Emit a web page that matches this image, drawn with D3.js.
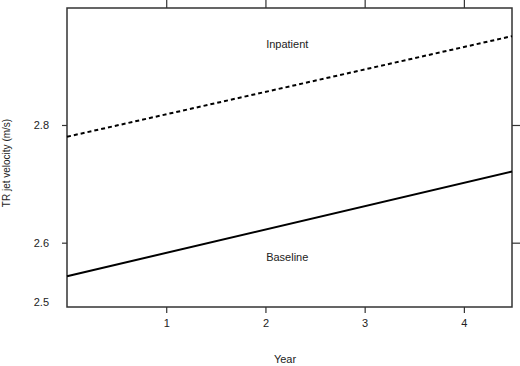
<!DOCTYPE html>
<html>
<head>
<meta charset="utf-8">
<script src="https://cdn.jsdelivr.net/npm/d3@7"></script>
<style>
  body { margin: 0; background: #fff; }
  svg { display: block; font-family: Arial, "Liberation Sans", sans-serif; }
</style>
</head>
<body>
<script>
const width = 520;
const height = 366;

// values
const years = [0, 4.485];
const baseline = [2.543, 2.721];
const inpatient = [2.780, 2.951];
const xTicks = [1, 2, 3, 4];
const yTickLabels = [2.5, 2.6, 2.8];
const yTickMarks = [2.6, 2.8];
const groupLabels = [
  { name: 'Inpatient', year: 2.22, value: 2.9376 },
  { name: 'Baseline', year: 2.22, value: 2.5757 }
];

const margin = { left: 67, right: 8, top: 8, bottom: 59 };
const x = d3.scaleLinear().domain([0, 4.485]).range([margin.left, width - margin.right]);
const y = d3.scaleLinear().domain([2.4907, 2.9988]).range([height - margin.bottom, margin.top]);

const svg = d3.select('body').append('svg')
  .attr('width', width)
  .attr('height', height);

const ink = '#222';

// axes
svg.append('g')
  .attr('transform', `translate(0,${height - margin.bottom})`)
  .call(d3.axisBottom(x).tickValues(xTicks).tickSize(6).tickPadding(6).tickFormat(d3.format('d')))
  .call(g => g.select('.domain').remove());

svg.append('g')
  .attr('transform', `translate(0,${margin.top})`)
  .call(d3.axisTop(x).tickValues(xTicks).tickSize(8).tickFormat(''))
  .call(g => g.select('.domain').remove());

svg.append('g')
  .attr('transform', `translate(${margin.left},0)`)
  .call(d3.axisLeft(y).tickValues(yTickMarks).tickSize(5).tickFormat(''))
  .call(g => g.select('.domain').remove());

svg.append('g')
  .attr('transform', `translate(${margin.left},0)`)
  .call(d3.axisLeft(y).tickValues(yTickLabels).tickSize(0).tickPadding(18).tickFormat(d3.format('.1f')))
  .call(g => g.select('.domain').remove());

svg.append('g')
  .attr('transform', `translate(${width - margin.right},0)`)
  .call(d3.axisRight(y).tickValues(yTickMarks).tickSize(8).tickFormat(''))
  .call(g => g.select('.domain').remove());

svg.selectAll('.tick line').attr('stroke', '#333').attr('stroke-width', 1.2);
svg.selectAll('.tick text').attr('fill', ink).attr('font-size', 11).attr('font-family', null);

// plot box
svg.append('rect')
  .attr('x', x.range()[0])
  .attr('y', y.range()[1])
  .attr('width', x.range()[1] - x.range()[0])
  .attr('height', y.range()[0] - y.range()[1])
  .attr('fill', 'none')
  .attr('stroke', '#333')
  .attr('stroke-width', 1.5);

// lines
const line = d3.line()
  .x((d, i) => x(years[i]))
  .y(d => y(d));

svg.append('path')
  .datum(inpatient)
  .attr('d', line)
  .attr('fill', 'none')
  .attr('stroke', '#000')
  .attr('stroke-width', 2)
  .attr('stroke-dasharray', '4,3');

svg.append('path')
  .datum(baseline)
  .attr('d', line)
  .attr('fill', 'none')
  .attr('stroke', '#000')
  .attr('stroke-width', 2);

svg.selectAll('text.group')
  .data(groupLabels)
  .join('text')
    .attr('class', 'group')
    .attr('x', d => x(d.year))
    .attr('y', d => y(d.value))
    .attr('text-anchor', 'middle')
    .attr('dy', '0.35em')
    .attr('font-size', 11)
    .attr('fill', ink)
    .text(d => d.name);

// axis titles
svg.append('text')
  .attr('x', 285)
  .attr('y', 359)
  .attr('dy', '0.35em')
  .attr('text-anchor', 'middle')
  .attr('font-size', 11)
  .attr('fill', ink)
  .text('Year');

svg.append('text')
  .attr('transform', 'translate(6,163) rotate(-90)')
  .attr('dy', '0.35em')
  .attr('text-anchor', 'middle')
  .attr('font-size', 10)
  .attr('fill', ink)
  .text('TR jet velocity (m/s)');
</script>
</body>
</html>
